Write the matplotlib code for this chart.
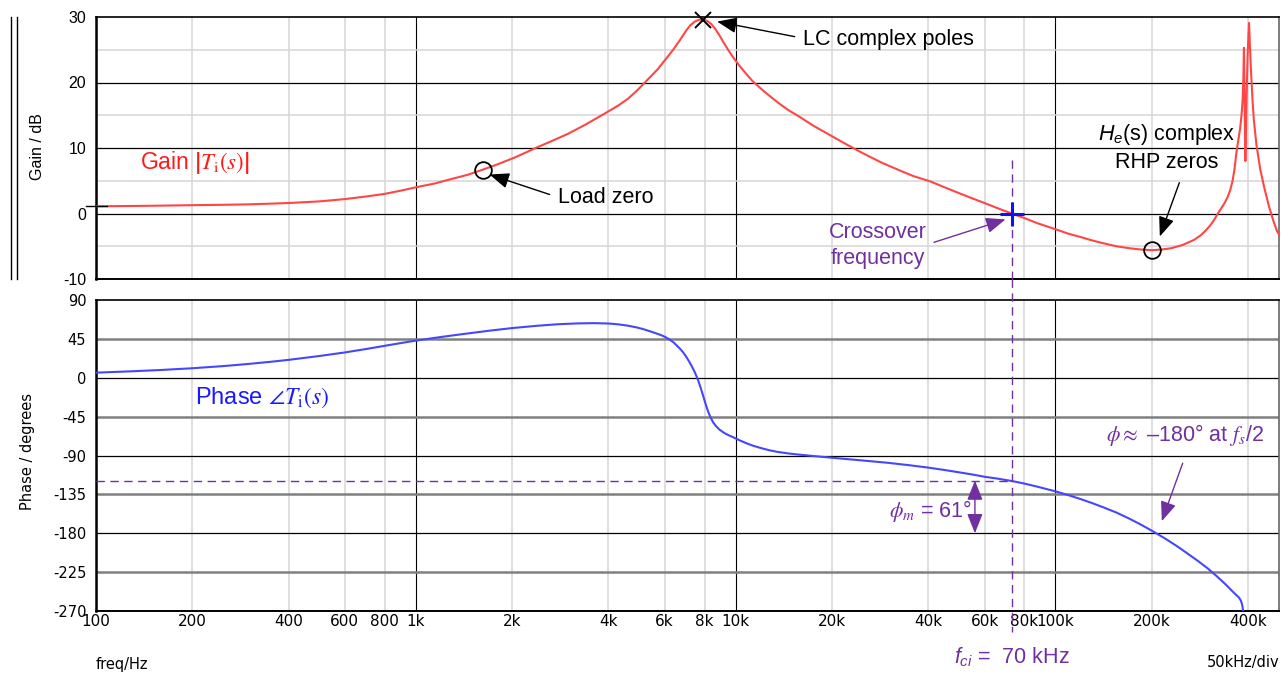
import matplotlib
matplotlib.use("Agg")
import numpy as np
import matplotlib.pyplot as plt
from matplotlib.lines import Line2D
from matplotlib.ticker import NullLocator
from matplotlib.transforms import blended_transform_factory

plt.rcParams["mathtext.fontset"] = "stix"
plt.rcParams["mathtext.it"] = "Liberation Sans:italic"
plt.rcParams["mathtext.rm"] = "Liberation Sans"
plt.rcParams["axes.unicode_minus"] = False

# ── data ──────────────────────────────────────────────────────────────────────
GAIN_F = [100, 130, 160, 200, 250, 300, 350, 400, 500, 600, 700, 800, 900,
          1000, 1150, 1300, 1450, 1620, 1800, 2050, 2370, 2700, 3000, 3400,
          3940, 4300, 4600, 4900, 5250, 5700, 6100, 6400, 6700, 7000, 7200,
          7450, 7700, 7930, 8150, 8400, 8630, 8900, 9200, 9500, 9800, 10300,
          10800, 11300, 12300, 13500, 14600, 15800, 17500, 20000, 22500, 25000,
          28500, 32500, 36000, 40600, 45000, 50000, 55000, 60000, 66000, 73000,
          80000, 88000, 100000, 110000, 120000, 130000, 140000, 155000, 170000,
          185000, 200000, 215000, 230000, 250000, 272000, 285000, 295000,
          305000, 314000, 322000, 330000, 338000, 346000, 352000, 358000,
          363000, 368000, 373000, 378000, 382000, 385000, 387000, 388500,
          390500, 392500, 396000, 399000, 403000, 406000, 409000, 413000,
          417000, 425000, 437000, 450000, 465000, 480000, 493000, 500000]
GAIN_DB = [1.1, 1.15, 1.2, 1.27, 1.33, 1.4, 1.5, 1.6, 1.85, 2.2, 2.6, 3.0, 3.5,
           4.0, 4.6, 5.3, 5.9, 6.7, 7.5, 8.6, 10.0, 11.2, 12.2, 13.6,
           15.4, 16.5, 17.5, 18.7, 20.2, 22.0, 23.8, 25.1, 26.5, 27.9, 28.7,
           29.3, 29.6, 29.6, 29.4, 28.9, 28.2, 27.2, 26.0, 24.9, 23.9, 22.5,
           21.3, 20.2, 18.6, 17.0, 15.8, 14.8, 13.4, 11.8, 10.4, 9.2,
           7.8, 6.6, 5.7, 4.9, 4.0, 3.1, 2.3, 1.6, 0.8, 0.0,
           -0.7, -1.5, -2.4, -3.1, -3.6, -4.1, -4.5, -5.0, -5.3,
           -5.5, -5.6, -5.5, -5.3, -4.8, -4.0, -3.3, -2.6,
           -1.8, -0.9, 0.0, 0.8, 1.6, 2.6, 3.6, 5.0,
           6.8, 9.3, 11.2, 13.0, 15.2, 17.5, 21.0, 25.3,
           16.0, 8.0, 18.0, 24.5, 29.1, 25.0, 21.5, 17.5,
           14.4, 10.5, 6.7, 3.9, 1.1, -1.1, -2.7, -3.2]

PHASE_F = [100, 130, 160, 200, 250, 300, 350, 400, 500, 600, 700, 800, 900,
           1000, 1200, 1400, 1700, 2000, 2400, 2800, 3200, 3600, 4000, 4300,
           4600, 4900, 5140, 5400, 5600, 5800, 6000, 6200, 6400, 6670, 6850,
           7000, 7150, 7300, 7450, 7600, 7750, 7900, 8050, 8200, 8350, 8500,
           8680, 8900, 9200, 9500, 9800, 10300, 10800, 11300, 11900, 12700,
           13500, 14600, 15800, 17500, 20000, 25000, 30000, 35000, 40000,
           45000, 50000, 55000, 60000, 66000, 73000, 80000, 88000, 100000,
           110000, 120000, 130000, 140000, 155000, 170000, 185000, 200000,
           220000, 240000, 260000, 280000, 300000, 320000, 340000, 355000,
           365000, 374000, 380000, 383000, 385000, 386000]
PHASE_DEG = [5.9, 7.5, 9, 11, 13.5, 16, 18.4, 20.7, 25.2, 29.3, 33.3, 37, 40.2,
             43, 47.2, 50.5, 54.5, 57.5, 60.2, 62, 62.9, 63.2, 62.8, 61.8,
             60.3, 58.3, 56.3, 53.8, 51.8, 49.8, 47.5, 44.5, 40.8, 34.3, 29.5,
             24.5, 19, 13, 6.5, -1, -10, -20, -30, -39, -46, -51.5,
             -56, -60, -63.8, -66.5, -68.7, -72.5, -75.8, -78.5, -81, -83.8,
             -85.8, -87.6, -89, -90.6, -92.6, -95.8, -98.5, -101.3, -104,
             -106.8, -109.5, -112, -114.6, -116.8, -119.5, -122.5, -126.2, -131.5,
             -136, -140.5, -145, -149.5, -156, -163, -170, -177,
             -186, -195, -204, -212.5, -221, -230, -239, -246,
             -250.5, -254, -258, -262, -266, -272]

XTICKS = [100, 200, 400, 600, 800, 1e3, 2e3, 4e3, 6e3, 8e3, 1e4, 2e4, 4e4,
          6e4, 8e4, 1e5, 2e5, 4e5]
XTICK_LABELS = ["100", "200", "400", "600", "800", "1k", "2k", "4k", "6k",
                "8k", "10k", "20k", "40k", "60k", "80k", "100k", "200k", "400k"]
GAIN_TICKS = [-10, 0, 10, 20, 30]
GAIN_GRID_MINOR = [-5, 5, 15, 25]
PHASE_TICKS = [90, 45, 0, -45, -90, -135, -180, -225, -270]

LC_POLE = (7930, 29.6)
LOAD_ZERO = (1620, 6.7)
RHP_ZERO = (200000, -5.6)
F_CROSS = 73000
PHASE_AT_FC = -119
PHASE_MARGIN_BOTTOM = -180

RED = "#ff4646"
BLUE = "#4646ff"
PURPLE = "#7030a0"
LIGHT = "#d6d6d6"
SANS = "Liberation Sans"

fig = plt.figure(figsize=(12.88, 6.75), dpi=100)
W, H = 1288, 675
ax_g = fig.add_axes([96 / W, 1 - 279 / H, 1183 / W, 262 / H])
ax_p = fig.add_axes([96 / W, 1 - 611 / H, 1183 / W, 311 / H], sharex=ax_g)

for ax in (ax_g, ax_p):
    ax.set_xscale("log")
    ax.set_xlim(100, 5.0e5)
    ax.xaxis.set_minor_locator(NullLocator())
    ax.tick_params(length=0)
    for f in XTICKS:
        decade = np.isclose(np.log10(f) % 1, 0)
        ax.axvline(f, color="black" if decade else LIGHT,
                   lw=0.8 if decade else 1.1, zorder=1)
    ax.spines["left"].set_linewidth(1.8)
    ax.spines["bottom"].set_linewidth(1.4)
    ax.spines["top"].set_linewidth(1.2)
    ax.spines["right"].set_color("#666666")
    ax.spines["right"].set_linewidth(1.2)

# gain panel
ax_g.set_ylim(-10, 30)
ax_g.set_yticks(GAIN_TICKS)
ax_g.tick_params(labelbottom=False, pad=7)
for lbl in ax_g.get_yticklabels():
    lbl.set_fontfamily(SANS)
    lbl.set_fontsize(11.5)
for y in GAIN_TICKS[1:-1]:
    ax_g.axhline(y, color="black", lw=0.9, zorder=1)
for y in GAIN_GRID_MINOR:
    ax_g.axhline(y, color=LIGHT, lw=1.1, zorder=1)
ax_g.plot(GAIN_F, GAIN_DB, color=RED, lw=1.5, zorder=3)

# phase panel
ax_p.set_ylim(-270, 90)
ax_p.set_yticks(PHASE_TICKS)
ax_p.set_xticks(XTICKS, XTICK_LABELS)
ax_p.tick_params(axis="y", pad=7, labelsize=10.5)
ax_p.tick_params(axis="x", pad=2, labelsize=11)
for y in PHASE_TICKS[1:-1]:
    black = y % 90 == 0
    ax_p.axhline(y, color="black" if black else "#808080",
                 lw=0.9 if black else 1.8, zorder=1)
ax_p.plot(PHASE_F, PHASE_DEG, color=BLUE, lw=1.5, zorder=3)

# curve start tick on the gain axis
tr = blended_transform_factory(ax_g.transAxes, ax_g.transData)
ax_g.plot([-0.0085, 0.0095], [GAIN_DB[0]] * 2, transform=tr, color="black",
          lw=1, clip_on=False, zorder=4)

# dashed crossover / phase-margin reference lines
dash = dict(color=PURPLE, lw=1, ls=(0, (6, 4)), zorder=4, clip_on=False)
ax_g.plot([F_CROSS, F_CROSS], [8.2, -10], **dash)
ax_p.plot([F_CROSS, F_CROSS], [114, -294], **dash)
ax_p.plot([100, F_CROSS], [PHASE_AT_FC] * 2, **dash)

# markers
ax_g.plot(*LC_POLE, marker="x", ms=12, mew=1.4, color="black", zorder=6, clip_on=False)
for pt in (LOAD_ZERO, RHP_ZERO):
    ax_g.plot(*pt, marker="o", ms=12, mfc="none", mec="black", mew=1.3, zorder=6)
ax_g.plot(F_CROSS, 0, marker="+", ms=17, mew=2.2, color="#1010ff", zorder=6)

arrow_k = dict(arrowstyle="-|>,head_length=0.75,head_width=0.3", color="black",
               lw=1, shrinkA=0, shrinkB=0, mutation_scale=16)
arrow_p = dict(arrow_k, color=PURPLE)

# annotations, gain panel
tk = dict(family=SANS, fontsize=15.5, va="center")
ax_g.text(16.2e3, 26.6, "LC complex poles", ha="left", **tk)
ax_g.annotate("", xy=(8.75e3, 29.3), xytext=(15.3e3, 27.0), arrowprops=arrow_k)
ax_g.text(2.78e3, 2.4, "Load zero", ha="left", **tk)
ax_g.annotate("", xy=(1.70e3, 5.95), xytext=(2.62e3, 2.9), arrowprops=arrow_k)
ax_g.text(2.22e5, 12.06, r"$H_e$(s) complex", ha="center", math_fontfamily="custom", **tk)
ax_g.text(2.22e5, 7.8, "RHP zeros", ha="center", **tk)
ax_g.annotate("", xy=(2.12e5, -3.5), xytext=(2.44e5, 4.7), arrowprops=arrow_k)
ax_g.text(2.79e4, -2.9, "Crossover", ha="center", color=PURPLE, **tk)
ax_g.text(2.79e4, -6.9, "frequency", ha="center", color=PURPLE, **tk)
ax_g.annotate("", xy=(6.98e4, -0.9), xytext=(4.17e4, -4.4), arrowprops=arrow_p)
ax_g.text(137, 7.8, r"Gain $\left|T_{\mathrm{i}}\left(s\right)\right|$", ha="left",
          color="#ff1a1a", math_fontfamily="stix", family=SANS, fontsize=16.5, va="center")

# annotations, phase panel
ax_p.text(204, -23, r"Phase $\angle T_{\mathrm{i}}\left(s\right)$", ha="left",
          color="#1a1aff", math_fontfamily="stix", family=SANS, fontsize=17, va="center")
ax_p.text(2.55e5, -66, r"$\phi \approx$ –180° at $f_s$/2", ha="center",
          color=PURPLE, math_fontfamily="stix", **tk)
ax_p.annotate("", xy=(2.15e5, -166), xytext=(2.5e5, -98.8), arrowprops=arrow_p)
ax_p.text(5.48e4, -154.7, r"$\phi_m$ = 61°", ha="right", color=PURPLE,
          math_fontfamily="stix", **tk)
ax_p.annotate("", xy=(5.6e4, PHASE_AT_FC), xytext=(5.6e4, PHASE_MARGIN_BOTTOM),
              arrowprops=dict(arrow_p, arrowstyle="<|-|>,head_length=0.75,head_width=0.3"))

# figure-level labels
fig.text(37 / W, 1 - 147 / H, "Gain / dB", rotation=90, ha="center", va="center",
         family=SANS, fontsize=11.5)
fig.text(27.5 / W, 1 - 452 / H, "Phase / degrees", rotation=90, ha="center",
         va="center", fontsize=10.5)
fig.text(96 / W, 1 - 664 / H, "freq/Hz", ha="left", va="center", fontsize=10.5)
fig.text(1279 / W, 1 - 663 / H, "50kHz/div", ha="right", va="center", fontsize=10.5)
fig.text(954 / W, 1 - 657 / H, r"$f_{ci}$ =  70 kHz", ha="left", va="center",
         color=PURPLE, family=SANS, fontsize=15.5, math_fontfamily="custom")
for x in (10.5, 16.5):
    fig.add_artist(Line2D([x / W] * 2, [1 - 17 / H, 1 - 279 / H], color="black", lw=1))

fig.savefig("out.png", dpi=100)
